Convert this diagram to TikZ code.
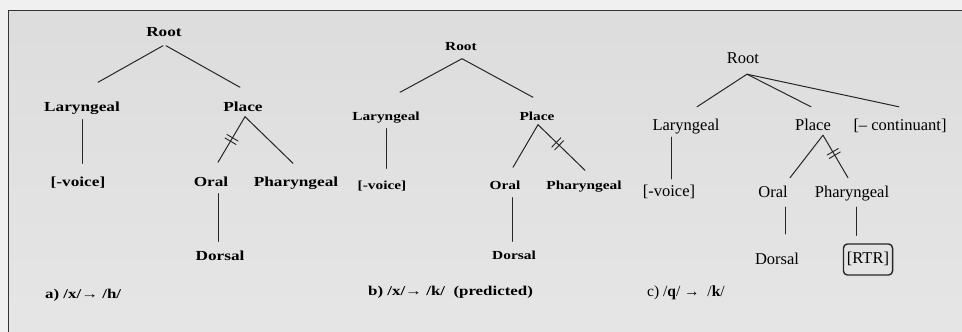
\documentclass[tikz,border=0pt]{standalone}
\usepackage{fontspec}
\setmainfont{Liberation Serif}
\newfontfamily\widefont{Liberation Serif}[FakeStretch=1.25]
\usetikzlibrary{decorations.markings}

\definecolor{pageout}{gray}{0.94}
\definecolor{panelgray}{gray}{0.865}
\definecolor{panellow}{gray}{0.9}

\tikzset{
  featA/.style={font=\widefont\bfseries\fontsize{13.8}{16}\selectfont, text height=10pt, text depth=3pt, inner sep=1pt},
  featB/.style={font=\widefont\bfseries\fontsize{12.3}{15}\selectfont, text height=9pt, text depth=3pt, inner sep=1pt},
  featC/.style={font=\fontsize{16.5}{19}\selectfont, text height=11.5pt, text depth=3.5pt, inner sep=1pt},
  capbf/.style={font=\widefont\bfseries\fontsize{13.5}{16}\selectfont, inner sep=0pt, anchor=west},
  caprm/.style={font=\fontsize{15.5}{18}\selectfont, inner sep=0pt, anchor=west},
  branch/.style={line width=1pt, black!85},
  delink/.style={postaction={decorate}, decoration={markings, mark=at position #1 with {\draw[line width=0.9pt] (-2pt,-6.5pt) -- (-2pt,6.5pt) (2pt,-6.5pt) -- (2pt,6.5pt);}}}
}

\begin{document}
\begin{tikzpicture}[x=1pt, y=-1pt, line cap=round, line join=round]
  \useasboundingbox (0,0) rectangle (962,332);
  \fill[pageout] (0,0) rectangle (962,332);
  \shade[top color=panelgray, bottom color=panellow] (8,10) rectangle (962,332);
  \draw[black!80, line width=1pt] (8,332) -- (8,10) -- (962,10);

  % a) /x/ -> /h/
  \node[featA] (rootA) at (164,33) {Root};
  \node[featA] (larA) at (82,108) {Laryngeal};
  \node[featA] (placeA) at (243,108) {Place};
  \node[featA] (voiceA) at (78,183) {[-voice]};
  \node[featA] (oralA) at (211,183) {Oral};
  \node[featA] (pharA) at (296,183) {Pharyngeal};
  \node[featA] (dorsalA) at (220,257) {Dorsal};
  \node[capbf] (capA) at (45,295) {a) /x/→ /h/};
  \draw[branch] ([shift={(-1,5)}]rootA.south) -- ([shift={(16,-18)}]larA.north);
  \draw[branch] ([shift={(2,5)}]rootA.south) -- ([shift={(-3,-13)}]placeA.north);
  \draw[branch, shorten <=4pt, shorten >=12pt] (larA.south) -- (larA.south |- voiceA.north);
  \draw[branch, delink=0.5] ([shift={(2,1)}]placeA.south) -- ([shift={(7,-13)}]oralA.north);
  \draw[branch] ([shift={(2,1)}]placeA.south) -- ([shift={(-3,-12)}]pharA.north);
  \draw[branch, shorten <=3pt, shorten >=8pt] ([shift={(-2,0)}]dorsalA.north |- oralA.south) -- ([shift={(-2,0)}]dorsalA.north);

  % b) /x/ -> /k/ (predicted)
  \node[featB] (rootB) at (461,47) {Root};
  \node[featB] (larB) at (386,117) {Laryngeal};
  \node[featB] (placeB) at (537,117) {Place};
  \node[featB] (voiceB) at (382,186) {[-voice]};
  \node[featB] (oralB) at (505,186) {Oral};
  \node[featB] (pharB) at (584,186) {Pharyngeal};
  \node[featB] (dorsalB) at (514,256) {Dorsal};
  \node[capbf] (capB) at (368,292) {b) /x/→ /k/~~(predicted)};
  \draw[branch] ([shift={(1,4.5)}]rootB.south) -- ([shift={(14,-17.5)}]larB.north);
  \draw[branch] ([shift={(1,4.5)}]rootB.south) -- ([shift={(-4,-12.5)}]placeB.north);
  \draw[branch, shorten <=4.5pt, shorten >=10.5pt] (larB.south) -- (larB.south |- voiceB.north);
  \draw[branch] ([shift={(1,0.5)}]placeB.south) -- ([shift={(8,-11.5)}]oralB.north);
  \draw[branch, delink=0.42] ([shift={(1,0.5)}]placeB.south) -- ([shift={(1,-8.5)}]pharB.north);
  \draw[branch, shorten <=4.5pt, shorten >=7.5pt] ([shift={(-2,0)}]dorsalB.north |- oralB.south) -- ([shift={(-2,0)}]dorsalB.north);

  % c) /q/ -> /k/
  \node[featC] (rootC) at (743,59) {Root};
  \node[featC] (larC) at (686,126) {Laryngeal};
  \node[featC] (placeC) at (813,126) {Place};
  \node[featC] (contC) at (900,126) {[– continuant]};
  \node[featC] (voiceC) at (669,192) {[-voice]};
  \node[featC] (oralC) at (773,193) {Oral};
  \node[featC] (pharC) at (852,193) {Pharyngeal};
  \node[featC] (dorsalC) at (777,260) {Dorsal};
  \node[featC, draw=black!85, line width=1.4pt, rounded corners=4pt, inner xsep=3.5pt, inner ysep=8pt] (rtrC) at (868,259.5) {[RTR]};
  \node[caprm] (capC) at (647,293) {c) /\textbf{q}/ → ~/\textbf{k}/};
  \draw[branch] ([shift={(4,6.5)}]rootC.south) -- ([shift={(11,-10.5)}]larC.north);
  \draw[branch] ([shift={(4,6.5)}]rootC.south) -- ([shift={(-2,-10.5)}]placeC.north);
  \draw[branch] ([shift={(4,6.5)}]rootC.south) -- ([shift={(-1,-10.5)}]contC.north);
  \draw[branch, shorten <=2.5pt, shorten >=4.5pt] ([shift={(2,0)}]larC.south -| voiceC.north) -- ([shift={(2,0)}]voiceC.north);
  \draw[branch] ([shift={(10,0.5)}]placeC.south) -- ([shift={(17,-6.5)}]oralC.north);
  \draw[branch, delink=0.43] ([shift={(10,0.5)}]placeC.south) -- ([shift={(-4,-6.5)}]pharC.north);
  \draw[branch, shorten <=5.5pt, shorten >=17.5pt] ([shift={(12,0)}]oralC.south) -- ([shift={(12,0)}]oralC.south |- dorsalC.north);
  \draw[branch, shorten <=5.5pt, shorten >=8pt] ([shift={(4,0)}]pharC.south) -- ([shift={(4,0)}]pharC.south |- rtrC.north);
\end{tikzpicture}
\end{document}
